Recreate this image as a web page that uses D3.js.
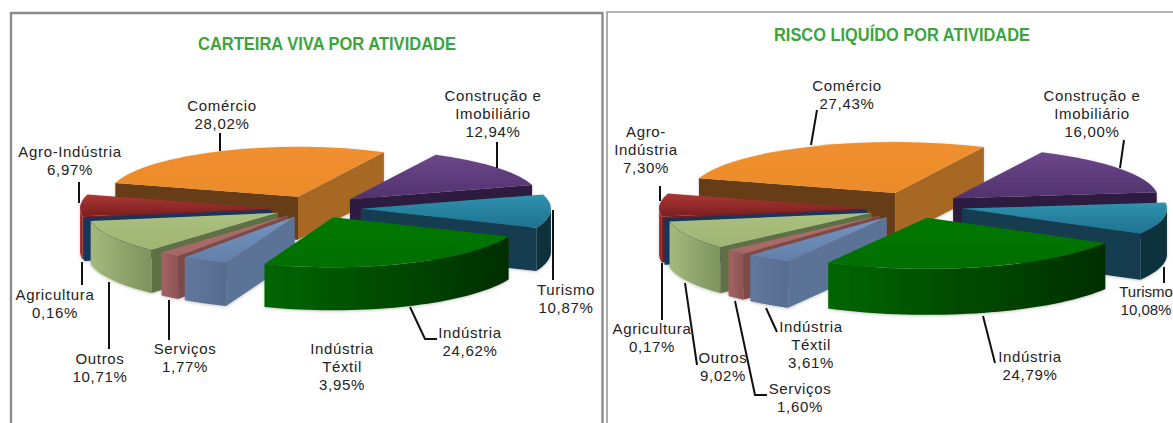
<!DOCTYPE html>
<html><head><meta charset="utf-8">
<script src="https://cdn.jsdelivr.net/npm/d3@7"></script>
<style>html,body{margin:0;padding:0;background:#fff;overflow:hidden}svg{display:block}</style>
</head><body><div id="c"></div>
<script>
// ---------- data ----------
const categories = ["Comércio","Construção e Imobiliário","Turismo","Indústria","Indústria Téxtil","Serviços","Outros","Agricultura","Agro-Indústria"];
const carteiraValues = [28.02,12.94,10.87,24.62,3.95,1.77,10.71,0.16,6.97];
const riscoValues    = [27.43,16.00,10.08,24.79,3.61,1.60,9.02,0.17,7.30];
const carteiraTitle = "CARTEIRA VIVA POR ATIVIDADE";
const riscoTitle = "RISCO LIQUÍDO POR ATIVIDADE";
// line breaks of the label names
const carteiraNames = [["Comércio"],["Construção e","Imobiliário"],["Turismo"],["Indústria"],["Indústria","Téxtil"],["Serviços"],["Outros"],["Agricultura"],["Agro-Indústria"]];
const riscoNames    = [["Comércio"],["Construção e","Imobiliário"],["Turismo"],["Indústria"],["Indústria","Téxtil"],["Serviços"],["Outros"],["Agricultura"],["Agro-","Indústria"]];

// ---------- layout / style (not data) ----------
const explodeCarteira = [30,52,51,59,32,35,36.6,39,40];
const liftCarteira    = [-4,0,0,-5,1,0,0,0,1];
const explodeRisco    = [37,53,53,62,40,43,43,44,46];
const liftRisco       = [-6.5,-2,-2,-5,1,0,0,0,1];
const labelCarteira = [[222,111],[493,101],[566,295],[470,338],[342,354],[185,354],[100,364],[55,300],[70,157]];
const labelRisco    = [[847,91],[1092,101],[1146,297],[1030,362],[811,332],[800,394],[723,363],[652,334],[646,137]];
const labelSpacingCarteira = [0.65,0.65,0.65,0.65,0.65,0.65,0.65,0.65,0.65];
const labelSpacingRisco    = [0.65,0.65,0,0.65,0.65,0.65,0.65,0.65,0.65];
const leaderCarteira = [[[220,133],[220,151]],[[497,142],[497,168]],[[553,210],[553,280]],[[410,307],[425,339],[437,339]],[],[[169,300],[169,340]],[[109,282],[109,349]],[[82,262],[82,285]],[[79,182],[79,203]]];
const leaderRisco    = [[[817,110],[811,145]],[[1124,140],[1120,168]],[[1164,267],[1164,283]],[[983,316],[995,363]],[[766,308],[777,332]],[[735,301],[755,395],[767,395]],[[685,283],[697,365]],[[662,263],[662,320]],[[660,186],[660,201]]];
const topFrom  = ["#EF8F2E","#6C478A","#2F92AE","#007800","#7396C2","#B06E6E","#ABC07F","#163A66","#AE3735"];
const topTo    = ["#EC8B2A","#51326E","#1F7290","#006E00","#637FA8","#A66666","#9FB574","#10305A","#7A1F1F"];
const wallFrom = ["#8A5318","#5A3B78","#0F333F","#006600","#62789C","#A46363","#A4B97C","#12355F","#A82E2E"];
const wallTo   = ["#8A5318","#3F2857","#0E2F3A","#002E00","#566C90","#8E5353","#7D935E","#12355F","#8C2222"];
const startWall = ["#663C12","#2F1C40","#133D4F","#004F00","#5C7398","#7E4A4A","#5E6F45","#12355F","#7A1F1F"];
const endWall   = ["#A66820","#2F1C40","#133D4F","#004F00","#5C7398","#7E4A4A","#5E6F45","#12355F","#7A1F1F"];

const W = 1173, H = 423;
const svg = d3.select("#c").append("svg").attr("width",W).attr("height",H).attr("viewBox",[0,0,W,H]);
svg.append("rect").attr("width",W).attr("height",H).attr("fill","#fff");
const defs = svg.append("defs");
const sh = defs.append("filter").attr("id","soft").attr("x","-10%").attr("y","-10%").attr("width","120%").attr("height","125%");
sh.append("feDropShadow").attr("dx",0).attr("dy",1).attr("stdDeviation",1.6).attr("flood-color","#000").attr("flood-opacity",0.22);

function grad(id,from,to,horizontal){
  const g = defs.append("linearGradient").attr("id",id)
    .attr("x1",0).attr("y1",0).attr("x2",horizontal?1:0).attr("y2",horizontal?0:1);
  g.append("stop").attr("offset",0).attr("stop-color",from);
  g.append("stop").attr("offset",1).attr("stop-color",to);
}
categories.forEach((_,i)=>{ grad("top"+i,topFrom[i],topTo[i],false); grad("wall"+i,wallFrom[i],wallTo[i],true); });

// panels
const frame = svg.append("g").attr("fill","none").attr("stroke","#8c8c8c");
frame.append("path").attr("d","M11,423V13H602.5V423").attr("stroke-width",2.4);
frame.append("path").attr("d","M607,423V12H1173").attr("stroke-width",1.6).attr("stroke","#9a9a9a");

const paintOrder = [0,1,2,8,7,6,5,4,3];

function drawPie(opts){
  const {values,title,titleX,titleY,titleLen,cx,cy,rx,ry,depth,startDeg,explode,lift,labels,spacing,leaders,names} = opts;
  const g = svg.append("g");
  const a0 = startDeg*Math.PI/180;
  const arcs = d3.pie().sort(null).value(d=>d).startAngle(a0).endAngle(a0+2*Math.PI)(values);
  const k = ry/rx;
  const xr = d3.scaleLinear().domain([0,1]).range([0,rx]);
  const yr = d3.scaleLinear().domain([0,1]).range([0,ry]);
  const arcTop = d3.arc().innerRadius(0).outerRadius(rx);
  const line = d3.line();

  const pieG = g.append("g").attr("filter","url(#soft)");
  paintOrder.forEach(i=>{
    const a = arcs[i], m = (a.startAngle+a.endAngle)/2, d = explode[i];
    const ax = cx + d*Math.sin(m), ay = cy - d*Math.cos(m)*k + lift[i];
    const P = t => [ax+xr(Math.sin(t)), ay-yr(Math.cos(t))];
    const down = p => [p[0],p[1]+depth];
    const s = pieG.append("g").attr("class","slice").datum({name:categories[i],value:values[i]});
    // radial walls facing the viewer
    if (Math.cos(a.startAngle-Math.PI/2)<0){
      const o=P(a.startAngle);
      s.append("path").attr("d",line([[ax,ay],o,down(o),[ax,ay+depth]])+"Z").attr("fill",startWall[i]);
    }
    if (Math.cos(a.endAngle+Math.PI/2)<0){
      const o=P(a.endAngle);
      s.append("path").attr("d",line([[ax,ay],o,down(o),[ax,ay+depth]])+"Z").attr("fill",endWall[i]);
    }
    // outer curved wall: the part of the rim that faces the viewer
    const twoPi=2*Math.PI;
    for (let off=-twoPi; off<=twoPi; off+=twoPi){
      const lo=Math.max(a.startAngle,Math.PI/2+off), hi=Math.min(a.endAngle,3*Math.PI/2+off);
      if (hi>lo){
        const pts=d3.range(0,41).map(n=>P(lo+(hi-lo)*n/40));
        s.append("path").attr("d",line(pts.concat(pts.map(down).reverse()))+"Z").attr("fill","url(#wall"+i+")");
      }
    }
    s.append("path").attr("d",arcTop(a)).attr("transform",`translate(${ax},${ay}) scale(1,${k})`).attr("fill","url(#top"+i+")");
  });

  // title
  g.append("text").attr("x",titleX).attr("y",titleY).attr("text-anchor","middle")
    .attr("font-family","Liberation Sans, Arial, sans-serif").attr("font-weight","bold").attr("font-size",17.5)
    .attr("fill","#3BA53B").attr("textLength",titleLen).attr("lengthAdjust","spacingAndGlyphs").text(title);

  // leaders
  g.append("g").selectAll("path").data(leaders).join("path")
    .attr("d",d=>d.length?line(d):null).attr("fill","none").attr("stroke","#111").attr("stroke-width",2);

  // labels
  const fmt = v => v.toFixed(2).replace(".",",")+"%";
  categories.forEach((c,i)=>{
    const lines = names[i].concat([fmt(values[i])]);
    const t = g.append("text").attr("text-anchor","middle").attr("font-family","Liberation Sans, Arial, sans-serif")
      .attr("font-size",15).attr("letter-spacing",spacing[i]).attr("fill","#222");
    lines.forEach((l,j)=>t.append("tspan").attr("x",labels[i][0]).attr("y",labels[i][1]+j*17.8).text(l));
  });
}

drawPie({values:carteiraValues,title:carteiraTitle,titleX:327,titleY:50,titleLen:258,cx:310,cy:208,rx:190,ry:50,depth:43,startDeg:286,
  explode:explodeCarteira,lift:liftCarteira,labels:labelCarteira,spacing:labelSpacingCarteira,leaders:leaderCarteira,names:carteiraNames});
drawPie({values:riscoValues,title:riscoTitle,titleX:902,titleY:41,titleLen:256,cx:910,cy:208,rx:205,ry:51,depth:46,startDeg:286.9,
  explode:explodeRisco,lift:liftRisco,labels:labelRisco,spacing:labelSpacingRisco,leaders:leaderRisco,names:riscoNames});
</script></body></html>
